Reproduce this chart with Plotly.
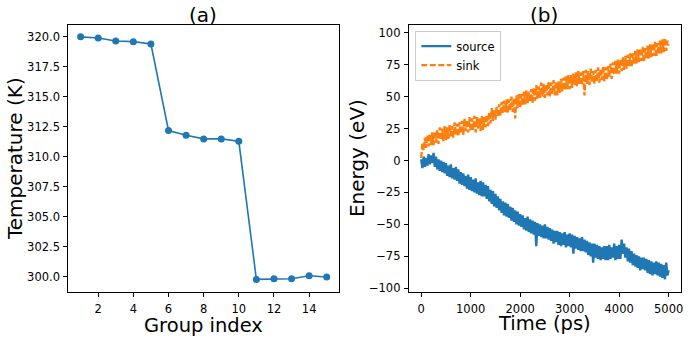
import plotly.graph_objects as go

# ---- Panel (a) data ----
group_index = list(range(1, 16))
temperature = [320.0, 319.9, 319.65, 319.6, 319.4,
               312.2, 311.8, 311.5, 311.5, 311.3,
               299.8, 299.85, 299.85, 300.1, 300.0]
temp_ticks = [300.0, 302.5, 305.0, 307.5, 310.0, 312.5, 315.0, 317.5, 320.0]
group_ticks = [2, 4, 6, 8, 10, 12, 14]

# ---- Panel (b) data (time step 25 ps, 0..5000) ----
time_ps = [i * 25 for i in range(201)]
sink = [
    2, 14, 8, 18, 10, 20, 11, 21, 12, 22,
    12, 23, 14, 24, 13, 26, 16, 25, 15, 27,
    16, 26, 17, 28, 19, 27, 18, 30, 20, 29,
    19, 30, 21, 31, 20, 33, 23, 32, 22, 34,
    23, 33, 24, 35, 22, 34, 25, 33, 23, 35,
    24, 34, 26, 36, 27, 38, 29, 41, 31, 40,
    32, 42, 34, 44, 35, 46, 37, 47, 38, 48,
    37, 48, 39, 50, 38, 49, 33, 51, 41, 52,
    41, 52, 43, 54, 44, 55, 45, 54, 46, 56,
    45, 57, 47, 59, 48, 58, 49, 61, 50, 60,
    49, 60, 51, 62, 50, 61, 52, 63, 51, 62,
    51, 62, 53, 64, 54, 65, 55, 66, 56, 67,
    56, 67, 57, 68, 59, 69, 58, 70, 60, 69,
    59, 70, 51, 71, 60, 70, 59, 72, 61, 70,
    60, 71, 62, 73, 61, 72, 63, 74, 62, 73,
    63, 74, 65, 76, 64, 77, 67, 78, 68, 79,
    68, 79, 70, 81, 71, 82, 72, 83, 74, 84,
    73, 84, 75, 86, 76, 87, 77, 88, 78, 89,
    77, 88, 79, 90, 80, 91, 81, 92, 82, 93,
    81, 92, 83, 94, 84, 95, 85, 96, 86, 94,
    90,
]
source = [
    1, -6, 3, -5, 2, -4, 5, -3, 4, -2,
    6, -5, 3, -7, 1, -8, 0, -9, -1, -10,
    -2, -12, -4, -13, -3, -14, -6, -15, -5, -16,
    -7, -18, -9, -19, -10, -20, -12, -22, -11, -23,
    -13, -24, -15, -25, -14, -26, -17, -27, -16, -28,
    -17, -28, -19, -30, -20, -32, -23, -34, -24, -36,
    -26, -37, -28, -39, -30, -41, -32, -43, -33, -44,
    -34, -45, -36, -47, -37, -48, -39, -50, -40, -51,
    -42, -52, -43, -54, -45, -55, -44, -56, -46, -57,
    -47, -58, -48, -67, -49, -59, -50, -60, -51, -61,
    -50, -61, -52, -62, -53, -63, -54, -65, -55, -64,
    -55, -66, -56, -67, -57, -66, -56, -68, -58, -67,
    -57, -68, -58, -73, -59, -69, -60, -70, -61, -71,
    -60, -71, -62, -72, -63, -74, -64, -75, -65, -80,
    -65, -76, -66, -77, -67, -78, -68, -77, -67, -78,
    -67, -78, -66, -77, -68, -76, -65, -78, -67, -77,
    -66, -77, -62, -73, -65, -76, -68, -79, -69, -80,
    -71, -82, -73, -83, -74, -84, -75, -86, -76, -85,
    -76, -86, -77, -88, -78, -89, -79, -90, -80, -89,
    -79, -90, -80, -91, -81, -92, -82, -93, -80, -90,
    -86,
]
energy_ticks = [-100, -75, -50, -25, 0, 25, 50, 75, 100]
time_ticks = [0, 1000, 2000, 3000, 4000, 5000]

BLUE = "#1f77b4"
ORANGE = "#ff7f0e"
FONT = "DejaVu Sans"
W, H = 690, 340

fig = go.Figure()
fig.add_trace(go.Scatter(x=group_index, y=temperature, mode="lines+markers",
                         line=dict(color=BLUE, width=1.6),
                         marker=dict(color=BLUE, size=7),
                         showlegend=False, xaxis="x", yaxis="y"))
fig.add_trace(go.Scatter(x=time_ps, y=source, mode="lines", name="source",
                         line=dict(color=BLUE, width=2.4, simplify=False),
                         xaxis="x2", yaxis="y2"))
fig.add_trace(go.Scatter(x=time_ps, y=sink, mode="lines", name="sink",
                         line=dict(color=ORANGE, width=2.4, dash="6px,2.5px",
                                   simplify=False),
                         xaxis="x2", yaxis="y2"))

# pixel layout
ax1 = (68.5, 340.0)
ax2 = (410.0, 683.0)
ytop, ybot = 25.0, 295.0
ydom = [(H - ybot) / H, (H - ytop) / H]

common = dict(showline=True, mirror=True, linecolor="black", linewidth=1,
              ticks="outside", ticklen=4, tickwidth=1, tickcolor="black",
              showgrid=False, zeroline=False,
              tickfont=dict(family=FONT, size=11.5, color="black"))

fig.update_layout(
    width=W, height=H, margin=dict(l=0, r=0, t=0, b=0),
    paper_bgcolor="white", plot_bgcolor="white",
    font=dict(family=FONT, color="black"),
    xaxis=dict(domain=[ax1[0] / W, ax1[1] / W], range=[0.3, 15.7],
               tickvals=group_ticks, anchor="y", ticklabelstandoff=3, **common),
    yaxis=dict(domain=ydom, range=[298.79, 321.01], tickvals=temp_ticks,
               tickformat=".1f", anchor="x", ticklabelstandoff=1, **common),
    xaxis2=dict(domain=[ax2[0] / W, ax2[1] / W], range=[-250, 5250],
                tickvals=time_ticks, anchor="y2", ticklabelstandoff=3, **common),
    yaxis2=dict(domain=ydom, range=[-102.6, 106.4], tickvals=energy_ticks,
                anchor="x2", ticklabelstandoff=1, **common),
    legend=dict(x=416.5 / W, y=1 - 31.0 / H, xanchor="left", yanchor="top",
                bgcolor="rgba(255,255,255,0.8)", bordercolor="#cccccc",
                borderwidth=1, font=dict(family=FONT, size=11.5, color="black"),
                tracegroupgap=0, itemwidth=30),
)

def ann(text, x, y, size, angle=0):
    return dict(text=text, x=x / W, y=1 - y / H, xref="paper", yref="paper",
                showarrow=False, xanchor="center", yanchor="middle",
                textangle=angle, font=dict(family=FONT, size=size, color="black"))

fig.update_layout(annotations=[
    ann("(a)", 204, 15, 20),
    ann("(b)", 546, 15, 20),
    ann("Group index", 204, 329, 19.5),
    ann("Time (ps)", 546, 327, 19.5),
    ann("Temperature (K)", 15, 160, 20, -90),
    ann("Energy (eV)", 358, 160, 20, -90),
])

fig.write_html("out.html")
